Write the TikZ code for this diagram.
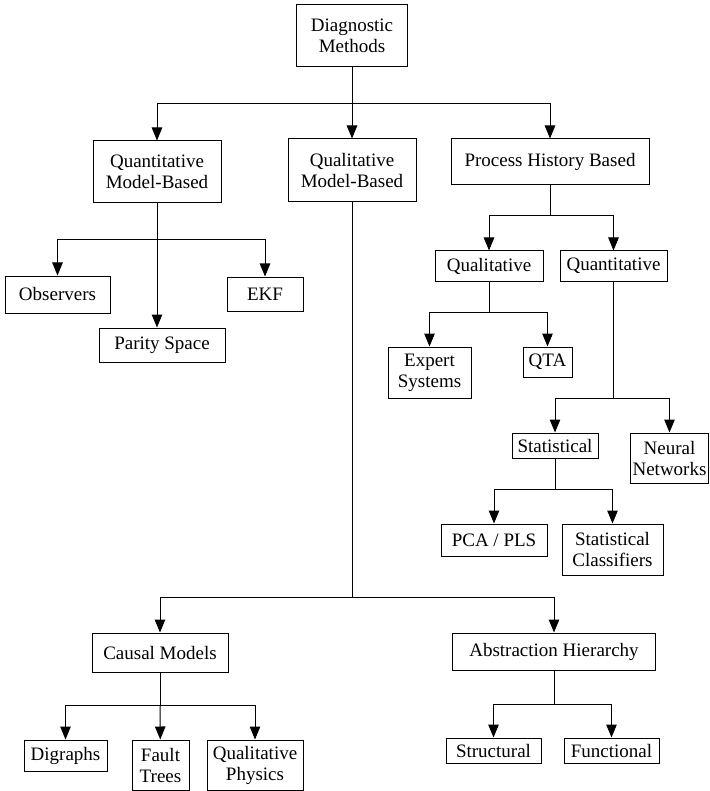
\documentclass[tikz,border=0pt]{standalone}
\usepackage{fontspec}
\setmainfont{Liberation Serif}
\usetikzlibrary{arrows.meta}
\begin{document}
\begin{tikzpicture}[x=1pt,y=1pt,yscale=-1,xscale=1,
        box/.style={draw,line width=1pt,inner sep=0pt,align=center,font=\fontsize{19}{21}\selectfont},
        arr/.style={line width=1pt,-{Triangle[width=10.5pt,length=13pt]}},
        link/.style={line width=1pt}]
        \useasboundingbox (0,0) rectangle (709,791);
        \node [box,minimum width=111pt,minimum height=62pt] (diag) at (352,36) {Diagnostic\\Methods};
        \node [box,minimum width=128pt,minimum height=62pt] (qmb) at (157,172) {Quantitative\\Model-Based};
        \node [box,minimum width=128pt,minimum height=63pt] (lmb) at (352,170.5) {Qualitative\\Model-Based};
        \node [box,minimum width=198pt,minimum height=46pt] (phb) at (550,162) {Process History Based};
        \node [box,minimum width=105pt,minimum height=37pt] (obs) at (57.5,294.5) {Observers};
        \node [box,minimum width=76pt,minimum height=34pt] (ekf) at (265,294) {EKF};
        \node [box,minimum width=126pt,minimum height=34pt] (parity) at (162,345) {Parity Space};
        \node [box,minimum width=108pt,minimum height=30pt] (qual) at (489,266) {Qualitative};
        \node [box,minimum width=107pt,minimum height=30pt] (quant) at (613.5,266) {Quantitative};
        \node [box,minimum width=83pt,minimum height=51pt] (expert) at (429.5,372.5) {Expert\\Systems};
        \node [box,minimum width=49pt,minimum height=30pt] (qta) at (547.5,362) {QTA};
        \node [box,minimum width=86pt,minimum height=25pt] (stat) at (555,445.5) {Statistical};
        \node [box,minimum width=78pt,minimum height=50pt] (neural) at (669.5,458) {Neural\\Networks};
        \node [box,minimum width=106pt,minimum height=32pt] (pca) at (494,540) {PCA / PLS};
        \node [box,minimum width=101pt,minimum height=51pt] (statcl) at (612.5,549.5) {Statistical\\Classifiers};
        \node [box,minimum width=136pt,minimum height=39pt] (causal) at (160,652.5) {Causal Models};
        \node [box,minimum width=203pt,minimum height=37pt] (abstr) at (554,651.5) {Abstraction Hierarchy};
        \node [box,minimum width=83pt,minimum height=31pt] (digraphs) at (65.5,755.5) {Digraphs};
        \node [box,minimum width=57pt,minimum height=50pt] (fault) at (160.5,765) {Fault\\Trees};
        \node [box,minimum width=96pt,minimum height=50pt] (physics) at (255,765) {Qualitative\\Physics};
        \node [box,minimum width=95pt,minimum height=25pt] (struct) at (493.5,750.5) {Structural};
        \node [box,minimum width=95pt,minimum height=25pt] (func) at (611.5,750.5) {Functional};
        \coordinate (j1) at (352,104);
        \coordinate (j2) at (157,240);
        \coordinate (j3) at (550,216);
        \coordinate (j4) at (489,312);
        \coordinate (j5) at (613.5,398);
        \coordinate (j6) at (555,489);
        \coordinate (j7) at (352,597);
        \coordinate (j8) at (160,705);
        \coordinate (j9) at (554,704);
        \draw [link] (diag) -- (j1);
        \draw [arr] (j1) -| (qmb);
        \draw [arr] (j1) -- (lmb);
        \draw [arr] (j1) -| (phb);
        \draw [link] (qmb) -- (j2);
        \draw [arr] (j2) -| (obs);
        \draw [arr] (j2) -- (j2 |- parity.north);
        \draw [arr] (j2) -| (ekf);
        \draw [link] (phb) -- (j3);
        \draw [arr] (j3) -| (qual);
        \draw [arr] (j3) -| (quant);
        \draw [link] (qual) -- (j4);
        \draw [arr] (j4) -| (expert);
        \draw [arr] (j4) -| (qta);
        \draw [link] (quant) -- (j5);
        \draw [arr] (j5) -| (stat);
        \draw [arr] (j5) -| (neural);
        \draw [link] (stat) -- (j6);
        \draw [arr] (j6) -| (pca);
        \draw [arr] (j6) -| (statcl);
        \draw [link] (lmb) -- (j7);
        \draw [arr] (j7) -| (causal);
        \draw [arr] (j7) -| (abstr);
        \draw [link] (causal) -- (j8);
        \draw [arr] (j8) -| (digraphs);
        \draw [arr] (j8) -- (fault);
        \draw [arr] (j8) -| (physics);
        \draw [link] (abstr) -- (j9);
        \draw [arr] (j9) -| (struct);
        \draw [arr] (j9) -| (func);
    \end{tikzpicture}
\end{document}
